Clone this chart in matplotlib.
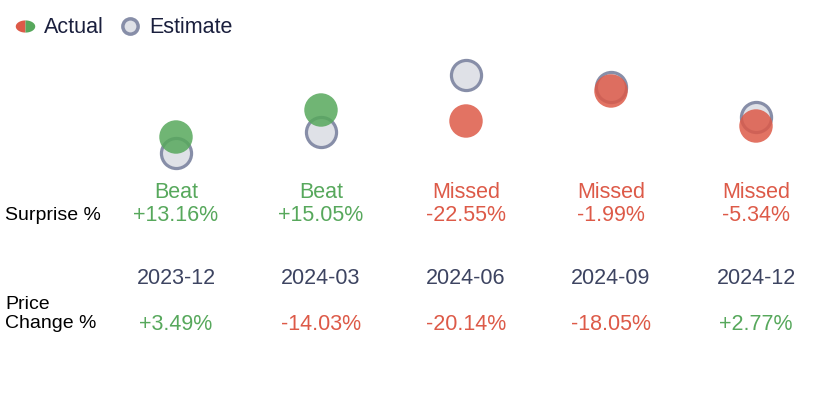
import matplotlib

matplotlib.use("Agg")
import numpy as np
import matplotlib.pyplot as plt
from matplotlib.lines import Line2D
from matplotlib.path import Path
from matplotlib.legend_handler import HandlerTuple
from matplotlib.transforms import blended_transform_factory

# data
quarters = ["2023-12", "2024-03", "2024-06", "2024-09", "2024-12"]
estimate_eps = [1.24, 1.45, 2.02, 1.90, 1.60]
actual_eps = [1.40, 1.67, 1.56, 1.86, 1.51]
surprise_pct = [13.16, 15.05, -22.55, -1.99, -5.34]
price_change_pct = [3.49, -14.03, -20.14, -18.05, 2.77]

GREEN = "#57a85c"
RED = "#dd5a48"
EST_FACE = "#dfe1e7"
EST_EDGE = "#878ea8"
DATE_COLOR = "#3d4461"
NAVY = "#1a1f3d"

plt.rcParams["font.family"] = ["Liberation Sans", "DejaVu Sans"]

W, H = 833, 409
fig = plt.figure(figsize=(W / 100, H / 100), dpi=100)
ax = fig.add_axes([0, 0, 1, 1])
ax.set_axis_off()

# x: quarter index -> pixel 176 + 145*i ; y: eps -> pixel 277 - 100*v
ax.set_xlim(-176 / 145, (W - 176) / 145)
ax.set_ylim((277 - H) / 100, 2.77)

xs = list(range(len(quarters)))
beat = [a >= e for a, e in zip(actual_eps, estimate_eps)]
act_colors = [GREEN if b else RED for b in beat]

ax.scatter(xs, estimate_eps, s=470, facecolor=EST_FACE, edgecolor=EST_EDGE,
           linewidth=2.3, zorder=2)
ax.scatter(xs, actual_eps, s=580, color=act_colors, alpha=0.85,
           linewidth=0, zorder=3)

tr = blended_transform_factory(ax.transData, ax.transAxes)


def fy(py):
    return 1 - py / H


for i, q in enumerate(quarters):
    c = GREEN if beat[i] else RED
    ax.text(i, fy(193), "Beat" if beat[i] else "Missed", color=c, fontsize=15.5,
            ha="center", va="center", transform=tr)
    ax.text(i, fy(215), f"{surprise_pct[i]:+.2f}%", color=c, fontsize=15.5,
            ha="center", va="center", transform=tr)
    ax.text(i, fy(278), q, color=DATE_COLOR, fontsize=15.5,
            ha="center", va="center", transform=tr)
    pc = price_change_pct[i]
    ax.text(i, fy(325), f"{pc:+.2f}%", color=GREEN if pc >= 0 else RED,
            fontsize=15.5, ha="center", va="center", transform=tr)

fig.text(5 / W, fy(216), "Surprise %", fontsize=14, color="black",
         ha="left", va="center")
fig.text(5 / W, fy(314), "Price\nChange %", fontsize=14, color="black",
         ha="left", va="center", linespacing=1.2)

# half-ellipse markers for the "Actual" legend swatch
t_left = np.linspace(np.pi / 2, 3 * np.pi / 2, 30)
t_right = np.linspace(-np.pi / 2, np.pi / 2, 30)
left_half = Path(np.column_stack([1.6 * np.cos(t_left), np.sin(t_left)]))
right_half = Path(np.column_stack([1.6 * np.cos(t_right), np.sin(t_right)]))

handles = [
    (Line2D([], [], linestyle="none", marker=left_half, markersize=14,
            markerfacecolor=RED, markeredgewidth=0),
     Line2D([], [], linestyle="none", marker=right_half, markersize=14,
            markerfacecolor=GREEN, markeredgewidth=0)),
    Line2D([], [], linestyle="none", marker="o", markersize=11,
           markerfacecolor=EST_FACE, markeredgecolor=EST_EDGE,
           markeredgewidth=2.5),
]
leg = fig.legend(handles, ["Actual", "Estimate"], loc="upper left",
                 bbox_to_anchor=(-0.001, fy(2)), ncol=2, frameon=False,
                 fontsize=15.5, handlelength=1.0, handletextpad=0.4,
                 columnspacing=0.7, borderaxespad=0.3,
                 handler_map={tuple: HandlerTuple(ndivide=1, pad=0)})
for t in leg.get_texts():
    t.set_color(NAVY)

fig.savefig("out.png", dpi=100)
